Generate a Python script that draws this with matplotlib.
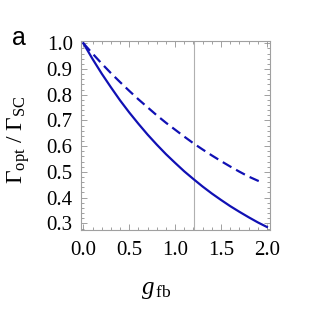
import matplotlib
matplotlib.use("Agg")
import matplotlib.pyplot as plt
from matplotlib.ticker import MultipleLocator

plt.rcParams['mathtext.fontset'] = 'custom'
plt.rcParams['mathtext.rm'] = 'Liberation Serif'
plt.rcParams['mathtext.it'] = 'Liberation Serif:italic'
plt.rcParams['font.family'] = 'Liberation Serif'

g_solid = [0.0, 0.1, 0.2, 0.3, 0.4, 0.5, 0.6, 0.7, 0.8, 0.9, 1.0, 1.1, 1.2, 1.3, 1.4,
           1.5, 1.6, 1.7, 1.8, 1.9, 2.0]
ratio_solid = [1.0, 0.939, 0.882, 0.829, 0.778, 0.731, 0.687, 0.645, 0.606, 0.569, 0.535,
               0.502, 0.472, 0.443, 0.416, 0.391, 0.367, 0.345, 0.324, 0.304, 0.286]
g_dashed = [0.0, 0.1, 0.2, 0.3, 0.4, 0.5, 0.6, 0.7, 0.8, 0.9, 1.0, 1.1, 1.2, 1.3, 1.4,
            1.5, 1.6, 1.7, 1.8, 1.9, 1.95]
ratio_dashed = [1.0, 0.960, 0.921, 0.884, 0.849, 0.815, 0.782, 0.751, 0.720, 0.691, 0.664,
                0.637, 0.611, 0.587, 0.564, 0.542, 0.521, 0.501, 0.482, 0.466, 0.459]
g_marker = 1.21
xticks = [0.0, 0.5, 1.0, 1.5, 2.0]
yticks = [0.3, 0.4, 0.5, 0.6, 0.7, 0.8, 0.9, 1.0]

fig = plt.figure(figsize=(3.13, 3.13), dpi=100)
ax = fig.add_axes([0.259, 0.265, 0.604, 0.605])
blue = '#1010b4'
ax.axvline(g_marker, color='#b0b0b0', lw=0.8, zorder=1)
ax.plot(g_solid, ratio_solid, color=blue, lw=1.6, zorder=3)
ax.plot(g_dashed, ratio_dashed, color=blue, lw=1.6, dashes=(4.5, 2.4), zorder=3)

ax.set_xlim(-0.025, 2.035)
ax.set_ylim(0.274, 1.01)
ax.set_xticks(xticks)
ax.set_xticklabels([f'{v:.1f}' for v in xticks])
ax.set_yticks(yticks)
ax.set_yticklabels([f'{v:.1f}' for v in yticks])
ax.xaxis.set_minor_locator(MultipleLocator(0.1))
ax.yaxis.set_minor_locator(MultipleLocator(0.02))
ax.tick_params(which='both', direction='in', top=True, right=True, color='#909090', width=0.6)
ax.tick_params(which='major', length=4)
ax.tick_params(which='minor', length=2.2)
ax.tick_params(axis='x', which='major', pad=8, labelsize=15)
ax.tick_params(axis='y', which='major', pad=6, labelsize=15)
for s in ax.spines.values():
    s.set_color('#a0a0a0')
    s.set_linewidth(0.8)

fig.text(0.06, 0.555, r'$\Gamma_{\rm opt}\ /\ \Gamma_{\rm SC}$', rotation=90,
         ha='center', va='center', fontsize=17)
fig.text(0.5, 0.075, r'$g_{\rm \,fb}$', ha='center', va='center', fontsize=18)
fig.text(0.062, 0.878, 'a', ha='center', va='center', fontsize=18, family='Liberation Sans')

fig.savefig('out.png', dpi=100)
